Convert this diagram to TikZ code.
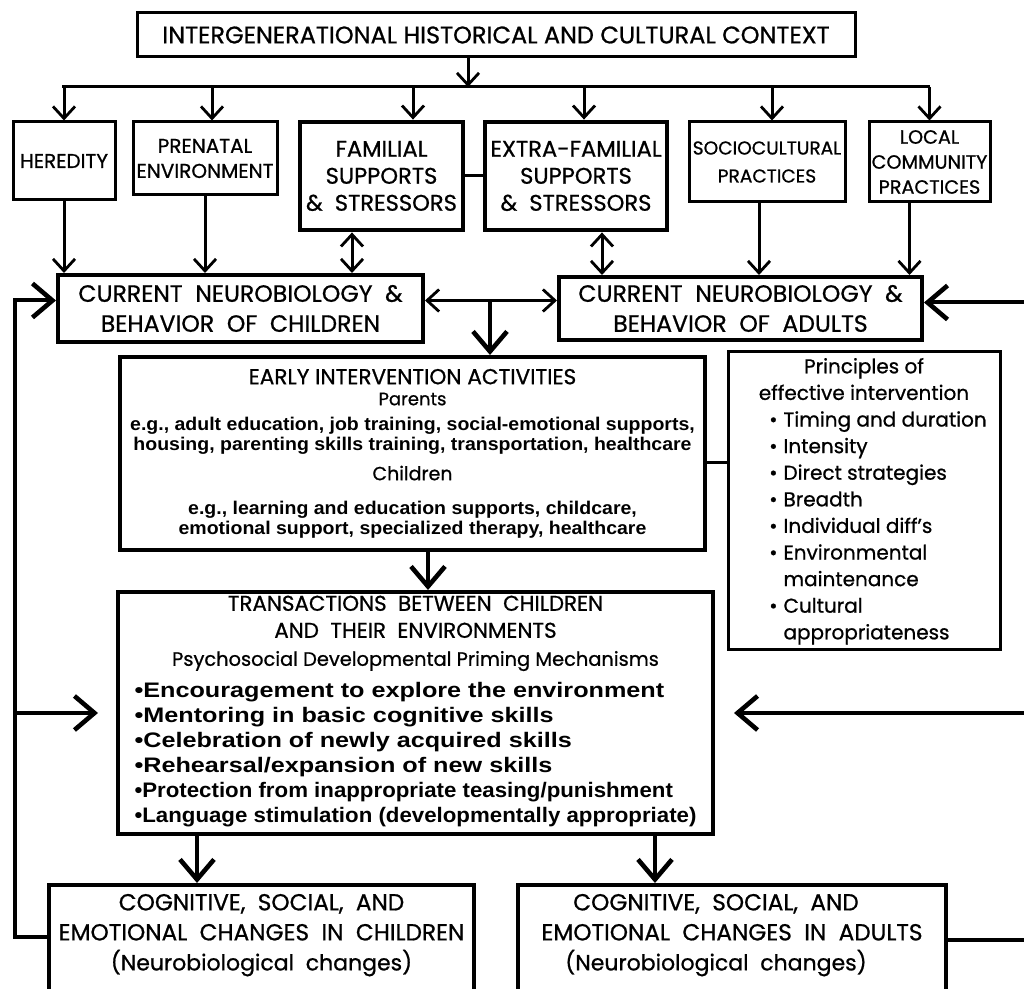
\documentclass[tikz,border=0pt]{standalone}
\usepackage{fontspec}
\setmainfont{Poppins}[FakeBold=0.8]
\newfontfamily\egfont{Liberation Sans}[FakeStretch=1.06]
\newfontfamily\widefont{Liberation Sans}[FakeStretch=1.2]
\usetikzlibrary{arrows.meta,positioning}

\begin{document}
\begin{tikzpicture}[x=0.5pt,y=-0.5pt,
  box/.style={draw,line width=1.5pt,inner sep=0pt,align=center},
  heavy/.style={box,line width=2.4pt},
  mid/.style={box,line width=2pt},
  lnk/.style={line width=1.5pt},
  arr/.style={lnk,-{Straight Barb[length=6pt,width=11pt,line width=1.4pt]}},
  dbl/.style={lnk,{Straight Barb[length=6pt,width=11pt,line width=1.4pt]}-{Straight Barb[length=6pt,width=11pt,line width=1.4pt]}},
  bigarr/.style={line width=2pt,-{Straight Barb[length=10pt,width=17pt,line width=2.3pt]}}]
\useasboundingbox (0,0) rectangle (1024,989);
\clip (0,0) rectangle (1024,989);

%Context box
\node[box,minimum width=359pt,minimum height=22pt,font=\fontsize{12}{14}\selectfont] (ctx) at (496,35) {INTERGENERATIONAL HISTORICAL AND CULTURAL CONTEXT};
%bus
\coordinate (busL) at (62,87);
\coordinate (busR) at (930,87);
\draw[lnk] (busL) -- (busR);
\coordinate (t0) at ([xshift=-14pt]ctx.south);
\draw[arr] (t0) -- (t0 |- busL);

%Influences
\node[box,minimum width=51pt,minimum height=39pt,font=\fontsize{10}{12}\selectfont] (hered) at (64,161) {HEREDITY};
\node[box,minimum width=72pt,minimum height=36.5pt,font=\fontsize{10}{12.5}\selectfont] (prenat) at (205,158.5) {PRENATAL\\ENVIRONMENT};
\node[heavy,minimum width=81.5pt,minimum height=54pt,font=\fontsize{11.3}{13.5}\selectfont] (famil) at (381.5,176) {FAMILIAL\\SUPPORTS\\\&\ \ STRESSORS};
\node[heavy,minimum width=91pt,minimum height=54pt,font=\fontsize{11.3}{13.5}\selectfont] (extra) at (576,176) {EXTRA-FAMILIAL\\SUPPORTS\\\&\ \ STRESSORS};
\node[box,minimum width=78pt,minimum height=40pt,font=\fontsize{9.3}{14}\selectfont] (socio) at (767,162) {SOCIOCULTURAL\\PRACTICES};
\node[box,minimum width=60.5pt,minimum height=40pt,font=\fontsize{9.6}{12.5}\selectfont] (local) at (929.5,162) {LOCAL\\COMMUNITY\\PRACTICES};
\draw[lnk] (famil.east) -- (extra.west);

%bus arrows
\coordinate (b1) at (hered.north);
\draw[arr] (b1 |- busL) -- (b1);
\coordinate (b2) at ([xshift=3.5pt]prenat.north);
\draw[arr] (b2 |- busL) -- (b2);
\coordinate (b3) at ([xshift=15.75pt]famil.north);
\draw[arr] (b3 |- busL) -- (b3);
\coordinate (b4) at ([xshift=4pt]extra.north);
\draw[arr] (b4 |- busL) -- (b4);
\coordinate (b5) at ([xshift=2.5pt]socio.north);
\draw[arr] (b5 |- busL) -- (b5);
\coordinate (b6) at (local.north);
\draw[arr] (b6 |- busL) -- (b6);

%Current neurobiology
\node[mid,minimum width=182.5pt,minimum height=33.5pt,font=\fontsize{11.8}{15}\selectfont] (chi) at (240.5,308.5) {CURRENT\ \ NEUROBIOLOGY\ \ \&\\BEHAVIOR\ \ OF\ \ CHILDREN};
\node[mid,minimum width=181.5pt,minimum height=31.5pt,font=\fontsize{11.8}{15}\selectfont] (adu) at (740.5,308.5) {CURRENT\ \ NEUROBIOLOGY\ \ \&\\BEHAVIOR\ \ OF\ \ ADULTS};

\draw[arr] (hered.south) -- (hered.south |- chi.north);
\draw[arr] (prenat.south) -- (prenat.south |- chi.north);
\coordinate (fa) at ([xshift=-14.75pt]famil.south);
\draw[dbl] (fa) -- (fa |- chi.north);
\coordinate (ex) at ([xshift=13pt]extra.south);
\draw[dbl] (ex) -- (ex |- adu.north);
\coordinate (so) at ([xshift=-4pt]socio.south);
\draw[arr] (so) -- (so |- adu.north);
\coordinate (lo) at ([xshift=-10pt]local.south);
\draw[arr] (lo) -- (lo |- adu.north);

\coordinate (ca0) at ([yshift=4pt]chi.east);
\draw[dbl] (ca0) -- (ca0 -| adu.west);
\coordinate (jn) at (490,300);

%Early intervention
\node[mid,minimum width=292.5pt,minimum height=96.5pt,font=\fontsize{9.5}{10}\selectfont] (ei) at (412.5,453.5) {%
{\fontsize{10.8}{10}\selectfont EARLY INTERVENTION ACTIVITIES}\\[0.5pt]
{\fontsize{9}{10}\selectfont Parents}\\[2.5pt]
{\egfont\bfseries\fontsize{9.2}{10}\selectfont e.g., adult education, job training, social-emotional supports,}\\
{\egfont\bfseries\fontsize{9.2}{10}\selectfont housing, parenting skills training, transportation, healthcare}\\[5pt]
Children\\[7pt]
{\egfont\bfseries\fontsize{9.2}{10}\selectfont e.g., learning and education supports, childcare,}\\
{\egfont\bfseries\fontsize{9.2}{10}\selectfont emotional support, specialized therapy, healthcare}};
\draw[bigarr] (jn) -- (jn |- ei.north);

%Principles
\node[box,minimum width=136pt,minimum height=149pt,font=\fontsize{10}{13.3}\selectfont] (pr) at (864,501) {\begin{tabular}{@{\hspace{19pt}}r@{\hspace{3pt}}l@{\hspace{5pt}}}
\multicolumn{2}{@{}c@{}}{Principles of}\\
\multicolumn{2}{@{}c@{}}{effective intervention}\\
\textbullet & Timing and duration\\
\textbullet & Intensity\\
\textbullet & Direct strategies\\
\textbullet & Breadth\\
\textbullet & Individual diff's\\
\textbullet & Environmental\\
 & maintenance\\
\textbullet & Cultural\\
 & appropriateness
\end{tabular}};
\coordinate (ep) at ([yshift=-4.75pt]ei.east);
\draw[lnk] (ep) -- (ep -| pr.west);

%Transactions
\node[mid,minimum width=297.5pt,minimum height=121pt,font=\fontsize{10.7}{14}\selectfont] (tr) at (415.5,713) {%
TRANSACTIONS\ \ BETWEEN\ \ CHILDREN\\[-0.5pt]
AND\ \ THEIR\ \ ENVIRONMENTS\\
{\fontsize{9.7}{14}\selectfont Psychosocial Developmental Priming Mechanisms}\\[2pt]
{\widefont\bfseries\fontsize{10.5}{12.5}\selectfont
\begin{tabular}[t]{@{}l@{}}
\textbullet Encouragement to explore the environment\\
\textbullet Mentoring in basic cognitive skills\\
\textbullet Celebration of newly acquired skills\\
\textbullet Rehearsal/expansion of new skills\\
{\egfont\bfseries\textbullet Protection from inappropriate teasing/punishment}\\
{\egfont\bfseries\textbullet Language stimulation (developmentally appropriate)}
\end{tabular}}};
\coordinate (et) at ([xshift=7.75pt]ei.south);
\draw[bigarr] (et) -- (et |- tr.north);

%Changes
\node[mid,anchor=north,minimum width=212.5pt,inner ysep=4.5pt,text depth=60pt,font=\fontsize{11.6}{15}\selectfont] (cl) at (261.5,883) {COGNITIVE,\ \ SOCIAL,\ \ AND\\EMOTIONAL\ \ CHANGES\ \ IN\ \ CHILDREN\\{\fontsize{11}{12}\selectfont(Neurobiological\ \ changes)}};
\node[mid,anchor=north,minimum width=214pt,inner ysep=4.5pt,text depth=60pt,font=\fontsize{11.6}{15}\selectfont] (ca) at (732,883) {COGNITIVE,\ \ SOCIAL,\ \ AND\hspace*{16pt}\\EMOTIONAL\ \ CHANGES\ \ IN\ \ ADULTS\hspace*{16pt}\\{\fontsize{11}{12}\selectfont(Neurobiological\ \ changes)\hspace*{16pt}}};

\coordinate (tc) at ([xshift=-32.25pt]cl.north);
\draw[bigarr] (tc |- tr.south) -- (tc);
\coordinate (ta) at ([xshift=-38.5pt]ca.north);
\draw[bigarr] (ta |- tr.south) -- (ta);

%feedback loops
\coordinate (lft) at (15,937);
\draw[bigarr] ([yshift=-27pt]cl.north west) -- (lft) |- ([yshift=4pt]chi.west);
\draw[bigarr] (lft |- tr.west) -- ([xshift=-9pt]tr.west);
\coordinate (rgt) at (1030,940);
\draw[bigarr] ([yshift=-28.5pt]ca.north east) -- (rgt) |- ([yshift=3pt]adu.east);
\draw[bigarr] (rgt |- tr.east) -- ([xshift=9.5pt]tr.east);

\end{tikzpicture}
\end{document}
